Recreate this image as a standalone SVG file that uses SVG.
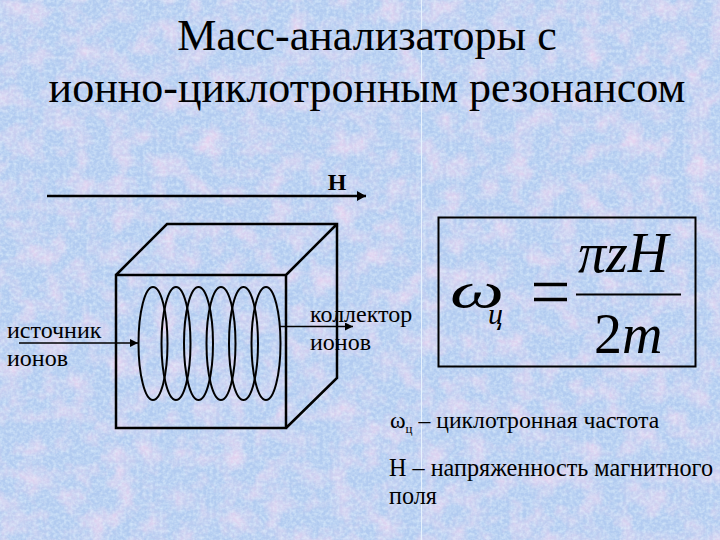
<svg xmlns="http://www.w3.org/2000/svg" width="720" height="540" viewBox="0 0 720 540">
<style>
.s{font-family:"Liberation Serif",serif;fill:#000}
.t{font-size:44px}
.l{font-size:24px}
.f{font-family:"Liberation Serif",serif;font-style:italic;fill:#000}
.k{fill:none;stroke:#000;stroke-width:2.5}
.c{fill:none;stroke:#000;stroke-width:2}
.a{fill:none;stroke:#000;stroke-width:1.6}
</style>
<defs>
<marker id="m" markerUnits="userSpaceOnUse" markerWidth="10" markerHeight="10" refX="8" refY="4" orient="auto"><path d="M0 0L8 4L0 8Z" fill="#000"/></marker>
<marker id="h" markerUnits="userSpaceOnUse" markerWidth="12" markerHeight="12" refX="9" refY="5" orient="auto"><path d="M0 0L9 5L0 10Z" fill="#000"/></marker>
<filter id="n" x="0" y="0" width="100%" height="100%"><feTurbulence type="fractalNoise" baseFrequency="0.045" numOctaves="4" seed="8"/><feColorMatrix type="matrix" values="0 0 0 0 0.93  0 0 0 0 0.68  0 0 0 0 0.87  2 0 0 0 -0.8"/></filter>
<filter id="g" x="0" y="0" width="100%" height="100%"><feTurbulence type="fractalNoise" baseFrequency="0.3" numOctaves="2" seed="3"/><feColorMatrix type="matrix" values="0 0 0 0 0.8  0 0 0 0 0.93  0 0 0 0 1  0 2 0 0 -0.7"/></filter>
</defs>
<g id="background">
<rect width="720" height="540" fill="#b2cbf0"/>
<rect width="720" height="540" filter="url(#n)" opacity=".75"/>
<rect width="720" height="540" filter="url(#g)" opacity=".55"/>
<rect x="421" y="0" width="1" height="540" fill="#e6f2fd"/>
</g>
<g id="title" class="s t">
<text x="367" y="50" text-anchor="middle">Масс-анализаторы с</text>
<text x="367" y="102" text-anchor="middle">ионно-циклотронным резонансом</text>
</g>
<g id="cube">
<path class="k" d="M116 275H286V428H116ZM116 275L167 224H337V378L286 428M286 275L337 224"/>
</g>
<g id="coil" class="c">
<ellipse cx="153" cy="343.500" rx="14.500" ry="56.500"/>
<ellipse cx="176" cy="343.500" rx="14.500" ry="56.500"/>
<ellipse cx="198.500" cy="343.500" rx="14.500" ry="56.500"/>
<ellipse cx="221" cy="343.500" rx="14.500" ry="56.500"/>
<ellipse cx="243.500" cy="343.500" rx="14.500" ry="56.500"/>
<ellipse cx="266" cy="343.500" rx="14.500" ry="56.500"/>
</g>
<g id="connectors">
<path class="k" d="M47 196H366" marker-end="url(#h)"/>
<path class="a" d="M19 343H138" marker-end="url(#m)"/>
<path class="a" d="M280 326.500H353" marker-end="url(#m)"/>
</g>
<g id="field-label"><text class="s" x="337" y="190" text-anchor="middle" font-size="24" font-weight="bold">Н</text></g>
<g id="source-label" class="s l">
<text x="7" y="338">источник</text>
<text x="7" y="366">ионов</text>
</g>
<g id="collector-label" class="s l">
<text x="310" y="322">коллектор</text>
<text x="310" y="350">ионов</text>
</g>
<g id="formula">
<rect x="438.500" y="217.500" width="257" height="149" fill="none" stroke="#000" stroke-width="2"/>
<text class="f" x="450" y="308" font-size="50" textLength="54" lengthAdjust="spacingAndGlyphs">ω</text>
<text class="f" x="488" y="324" font-size="30">ц</text>
<path d="M534 284.500H567M534 299.500H567" stroke="#000" stroke-width="3.500"/>
<path d="M576 294.500H681" stroke="#000" stroke-width="2"/>
<text class="f" x="578" y="272" font-size="56">πzH</text>
<text class="s" x="594" y="353" font-size="56">2<tspan class="f">m</tspan></text>
</g>
<g id="legend" class="s">
<text x="390" y="428" font-size="23.700">ω<tspan font-size="13" dy="5">ц</tspan><tspan dy="-5"> – циклотронная частота</tspan></text>
<text x="389" y="476" font-size="24.200">Н – напряженность магнитного</text>
<text x="389" y="504" font-size="24.200">поля</text>
</g>
</svg>
